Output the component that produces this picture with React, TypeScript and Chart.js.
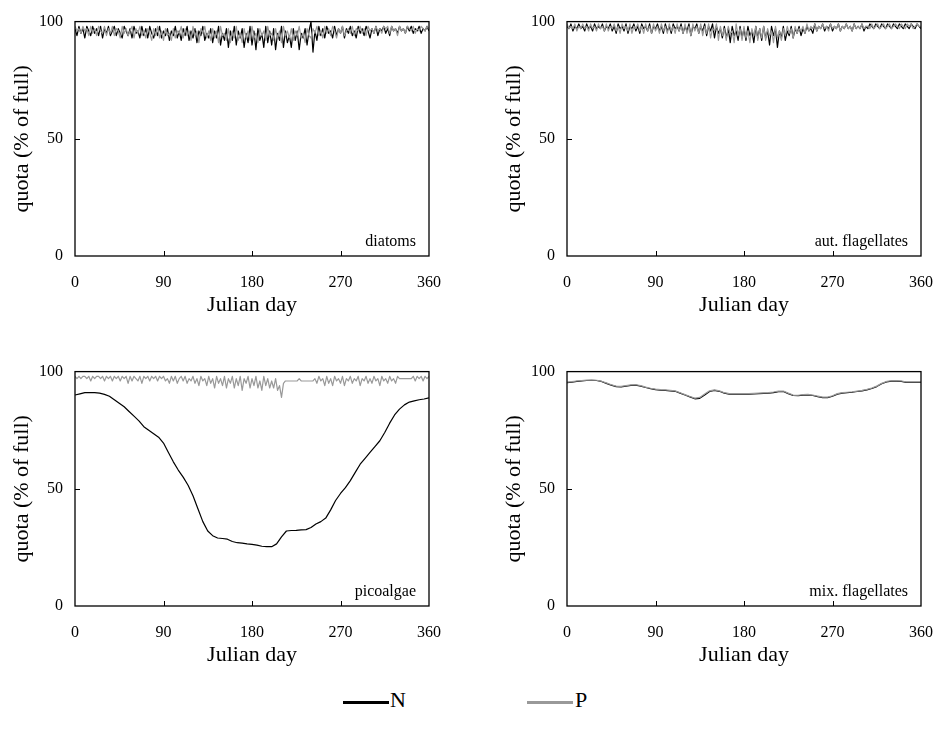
import React, { useEffect, useRef } from "react";
import { Chart, registerables } from "chart.js";
Chart.register(...registerables);

// x grids (Julian day)
const DAYS2 = Array.from({ length: 181 }, (_, i) => i * 2);
const DAYS5 = Array.from({ length: 73 }, (_, i) => i * 5);
const X_TICKS = [0, 90, 180, 270, 360];
const Y_TICKS = [0, 50, 100];

// diatoms (every 2 days)
const DIATOMS_N = [
  97, 94, 98, 95, 97, 93, 98, 96, 94, 98,
  95, 97, 94, 98, 93, 97, 95, 98, 94, 96,
  98, 94, 97, 95, 93, 98, 96, 94, 97, 93,
  98, 95, 96, 93, 98, 94, 97, 93, 98, 95,
  93, 97, 94, 98, 93, 96, 94, 97, 92, 96,
  94, 98, 93, 96, 92, 97, 94, 98, 92, 96,
  93, 97, 91, 96, 94, 98, 92, 95, 93, 97,
  91, 96, 93, 98, 90, 95, 92, 97, 89, 96,
  92, 98, 90, 96, 93, 97, 89, 95, 91, 98,
  90, 96, 88, 97, 92, 95, 89, 98, 91, 96,
  90, 97, 88, 95, 92, 98, 89, 96, 91, 94,
  89, 97, 92, 96, 88, 95, 93, 97, 90, 96,
  100, 87, 96, 92, 98, 94, 97, 93, 98, 95,
  96, 93, 98, 94, 97, 95, 98, 93, 97, 95,
  98, 94, 96, 93, 98, 95, 97, 94, 98, 96,
  93, 97, 95, 98, 94, 97, 96, 98, 95, 97,
  94, 98, 96, 97, 95, 98, 96, 97, 95, 98,
  96, 98, 95, 97, 96, 98, 95, 97, 96, 98,
  96,
];
const DIATOMS_P = [
  98, 96, 97, 95, 98, 96, 97, 94, 98, 95,
  97, 94, 98, 96, 95, 98, 94, 97, 95, 98,
  94, 97, 96, 93, 98, 95, 97, 94, 96, 98,
  93, 97, 95, 98, 94, 96, 93, 97, 95, 92,
  97, 94, 98, 93, 96, 92, 97, 94, 95, 92,
  97, 93, 96, 95, 98, 93, 97, 94, 96, 92,
  98, 94, 96, 91, 97, 95, 98, 93, 96, 92,
  97, 93, 96, 91, 98, 94, 95, 92, 97, 91,
  96, 93, 98, 92, 95, 91, 97, 93, 96, 92,
  98, 93, 95, 91, 97, 94, 96, 92, 98, 94,
  95, 92, 97, 93, 96, 91, 98, 94, 96, 93,
  97, 92, 96, 94, 98, 93, 95, 91, 97, 94,
  93, 97, 95, 98, 94, 96, 93, 98, 95, 97,
  94, 98, 96, 93, 97, 95, 98, 94, 96, 97,
  95, 98, 94, 97, 96, 98, 95, 97, 94, 98,
  96, 97, 95, 98, 96, 97, 95, 98, 97, 98,
  95, 98, 96, 97, 94, 98, 96, 97, 95, 98,
  97, 96, 98, 95, 97, 96, 98, 97, 96, 98,
  97,
];

// autotrophic flagellates (every 2 days)
const AUTFLAG_N = [
  98, 97, 99, 96, 98, 97, 99, 97, 98, 96,
  99, 97, 98, 96, 99, 97, 98, 97, 99, 96,
  98, 97, 99, 96, 98, 95, 99, 97, 98, 96,
  99, 95, 98, 97, 99, 96, 98, 95, 99, 97,
  98, 96, 99, 95, 98, 97, 99, 96, 98, 95,
  99, 96, 98, 95, 99, 97, 98, 96, 99, 95,
  98, 96, 99, 94, 98, 97, 99, 95, 98, 96,
  99, 94, 98, 96, 99, 93, 98, 95, 97, 93,
  98, 93, 97, 91, 98, 94, 96, 92, 98, 93,
  97, 92, 98, 94, 96, 91, 98, 93, 97, 92,
  98, 93, 96, 90, 98, 94, 97, 89, 96, 93,
  98, 92, 96, 94, 98, 93, 97, 95, 98, 94,
  97, 95, 98, 96, 97, 95, 99, 96, 98, 97,
  99, 96, 98, 97, 99, 96, 98, 97, 99, 96,
  98, 97, 99, 97, 98, 96, 99, 97, 98, 97,
  99, 96, 98, 97, 99, 98, 97, 99, 98, 97,
  99, 98, 97, 99, 98, 97, 99, 98, 97, 99,
  98, 97, 99, 98, 97, 99, 98, 97, 99, 98,
  97,
];
const AUTFLAG_P = [
  99, 97, 98, 97, 99, 96, 98, 97, 99, 97,
  98, 96, 99, 97, 98, 96, 99, 97, 98, 96,
  99, 96, 98, 97, 99, 96, 98, 95, 99, 97,
  98, 96, 99, 95, 98, 97, 99, 96, 98, 95,
  99, 96, 98, 95, 99, 96, 98, 95, 99, 96,
  98, 95, 99, 96, 98, 95, 99, 96, 98, 95,
  99, 95, 98, 94, 99, 96, 98, 95, 99, 94,
  98, 95, 99, 93, 97, 96, 99, 92, 98, 94,
  97, 92, 98, 95, 96, 91, 99, 94, 97, 92,
  98, 93, 96, 91, 97, 94, 98, 92, 97, 93,
  98, 92, 97, 94, 96, 91, 98, 93, 96, 92,
  97, 94, 98, 95, 97, 93, 98, 95, 97, 96,
  98, 95, 99, 96, 98, 97, 99, 96, 98, 97,
  99, 97, 98, 96, 99, 97, 98, 97, 99, 96,
  98, 97, 99, 97, 98, 96, 99, 97, 98, 97,
  99, 97, 98, 98, 97, 99, 97, 98, 99, 97,
  98, 99, 97, 98, 99, 97, 98, 99, 98, 97,
  99, 98, 97, 99, 98, 99, 97, 98, 99, 98,
  98,
];

// picoalgae
const PICO_P = [
  98, 97, 98, 97, 98, 98, 97, 98, 96, 98,
  97, 98, 98, 97, 98, 96, 98, 97, 98, 96,
  98, 97, 98, 96, 98, 97, 98, 95, 98, 96,
  98, 97, 96, 98, 95, 98, 97, 98, 96, 98,
  97, 98, 96, 98, 97, 98, 96, 97, 95, 98,
  96, 98, 95, 97, 98, 96, 98, 95, 97, 96,
  98, 95, 97, 94, 98, 96, 97, 94, 98, 95,
  97, 93, 98, 95, 97, 94, 98, 93, 97, 95,
  98, 93, 97, 94, 98, 92, 97, 95, 98, 93,
  97, 94, 98, 93, 96, 92, 98, 94, 97, 93,
  96, 93, 97, 92, 94, 89, 95, 96, 96, 96,
  96, 96, 96, 96, 97, 96, 96, 96, 96, 96,
  96, 96, 97, 95, 98, 96, 97, 94, 98, 95,
  97, 94, 98, 96, 97, 95, 98, 94, 97, 96,
  98, 95, 97, 96, 98, 94, 97, 96, 98, 95,
  97, 95, 98, 96, 97, 94, 98, 96, 97, 95,
  98, 96, 97, 95, 98, 97, 97, 97, 97, 97,
  97, 97, 98, 96, 98, 97, 98, 96, 98, 97,
  98,
];
// picoalgae N (every 5 days)
const PICO_N = [
  90, 90.5, 91, 91, 91, 90.8, 90.3, 89.5, 88, 86.5,
  85, 83, 81, 79, 76.5, 75, 73.5, 72, 69.5, 65.5,
  61.5, 58, 55, 51.5, 47, 41.5, 36, 32, 30, 29,
  28.8, 28.5, 27.5, 27, 26.8, 26.5, 26.3, 26, 25.5, 25.3,
  25.3, 26.5, 29.5, 32, 32.2, 32.3, 32.5, 32.6, 33.5, 35,
  36, 37.5, 41, 45, 48, 50.5, 53.5, 57, 60.5, 63,
  65.5, 68, 70.5, 74, 78, 81.5, 84, 85.8, 87, 87.5,
  88, 88.3, 88.8,
];

// mixotrophic flagellates (every 5 days)
const MIXFLAG_N = [
  95.3, 95.5, 95.8, 96, 96.2, 96.3, 96.2, 95.8, 95, 94.2,
  93.6, 93.5, 93.8, 94.1, 94.2, 93.8, 93.2, 92.7, 92.3, 92.1,
  92, 91.8, 91.6, 90.8, 90, 89.2, 88.4, 88.6, 90, 91.5,
  92, 91.6, 90.8, 90.4, 90.4, 90.4, 90.4, 90.4, 90.5, 90.6,
  90.7, 90.8, 91, 91.4, 91.5, 90.6, 89.8, 89.7, 90, 90.1,
  89.8, 89.3, 88.9, 88.9, 89.5, 90.4, 90.8, 91, 91.2, 91.5,
  91.8, 92.2, 92.8, 93.6, 94.8, 95.6, 95.9, 95.9, 95.8, 95.4,
  95.4, 95.4, 95.4,
];
const MIXFLAG_P = [
  95.5, 95.7, 96, 96.2, 96.4, 96.4, 96.3, 95.9, 95.2, 94.4,
  93.8, 93.7, 94, 94.3, 94.4, 94, 93.4, 92.9, 92.5, 92.3,
  92.2, 92, 91.8, 91, 90.2, 89.4, 88.7, 89, 90.4, 91.8,
  92.2, 91.8, 91, 90.6, 90.6, 90.6, 90.6, 90.6, 90.7, 90.8,
  90.9, 91, 91.3, 91.7, 91.7, 90.8, 90, 89.9, 90.2, 90.3,
  90, 89.5, 89.1, 89.1, 89.7, 90.6, 91, 91.2, 91.4, 91.7,
  92, 92.4, 93, 93.8, 95, 95.8, 96.1, 96.1, 96, 95.6,
  95.6, 95.6, 95.6,
];

const SERIF = '"Liberation Serif", "Times New Roman", serif';
const N_COLOR = "#000000";
const P_COLOR = "#999999";

const framePlugin = {
  id: "frame",
  afterDatasetsDraw(chart: any, _args: any, opts: any) {
    const { ctx, chartArea, scales } = chart;
    const { left, top, right, bottom } = chartArea;
    ctx.save();
    ctx.strokeStyle = "#000";
    ctx.lineWidth = 1.3;
    ctx.strokeRect(left, top, right - left, bottom - top);
    ctx.beginPath();
    X_TICKS.slice(1, -1).forEach((v) => {
      const px = Math.round(scales.x.getPixelForValue(v)) + 0.5;
      ctx.moveTo(px, bottom);
      ctx.lineTo(px, bottom - 5);
    });
    Y_TICKS.slice(1, -1).forEach((v) => {
      const py = Math.round(scales.y.getPixelForValue(v)) + 0.5;
      ctx.moveTo(left, py);
      ctx.lineTo(left + 5, py);
    });
    ctx.lineWidth = 1;
    ctx.stroke();
    ctx.font = `16px ${SERIF}`;
    ctx.fillStyle = "#000";
    ctx.textAlign = "right";
    ctx.textBaseline = "alphabetic";
    ctx.fillText(opts.text || "", right - 13, bottom - 10);
    ctx.restore();
  },
};

type Series = { label: string; days: number[]; values: number[]; color: string; width: number };

function Panel({ series, name, left, top }: { series: Series[]; name: string; left: number; top: number }) {
  const ref = useRef<HTMLCanvasElement>(null);
  useEffect(() => {
    const chart = new Chart(ref.current as HTMLCanvasElement, {
      type: "line",
      data: {
        datasets: series.map((s) => ({
          label: s.label,
          data: s.days.map((d, i) => ({ x: d, y: s.values[i] })),
          borderColor: s.color,
          backgroundColor: s.color,
          borderWidth: s.width,
          pointRadius: 0,
          tension: 0,
          borderJoinStyle: "round" as const,
          fill: false,
        })),
      },
      options: {
        responsive: false,
        animation: false,
        events: [],
        layout: { padding: { top: 16, bottom: 12, left: 0, right: 41 } },
        plugins: {
          legend: { display: false },
          tooltip: { enabled: false },
          frame: { text: name },
        } as any,
        scales: {
          x: {
            type: "linear",
            min: 0,
            max: 360,
            afterBuildTicks: (s: any) => {
              s.ticks = X_TICKS.map((v) => ({ value: v }));
            },
            afterFit: (s: any) => {
              s.height = 62;
            },
            ticks: { color: "#000", font: { family: SERIF, size: 16 }, padding: 17, maxRotation: 0 },
            grid: { display: false, drawTicks: false },
            border: { display: false },
            title: {
              display: true,
              text: "Julian day",
              color: "#000",
              font: { family: SERIF, size: 22 },
              padding: { top: 0, bottom: 0 },
            },
          },
          y: {
            type: "linear",
            min: 0,
            max: 100,
            afterBuildTicks: (s: any) => {
              s.ticks = Y_TICKS.map((v) => ({ value: v }));
            },
            afterFit: (s: any) => {
              s.width = 75;
            },
            ticks: { color: "#000", font: { family: SERIF, size: 16 }, padding: 12 },
            grid: { display: false, drawTicks: false },
            border: { display: false },
            title: {
              display: true,
              text: "quota (% of full)",
              color: "#000",
              font: { family: SERIF, size: 22 },
              padding: { top: 9, bottom: 0 },
            },
          },
        },
      },
      plugins: [framePlugin],
    } as any);
    return () => chart.destroy();
  }, []);
  return (
    <div style={{ position: "absolute", left, top, width: 470, height: 330 }}>
      <canvas ref={ref} width={470} height={330} />
    </div>
  );
}

const nP = (days: number[], values: number[]): Series => ({ label: "P", days, values, color: P_COLOR, width: 1.2 });
const nN = (days: number[], values: number[]): Series => ({ label: "N", days, values, color: N_COLOR, width: 1.2 });

export default function App() {
  return (
    <div style={{ position: "absolute", left: 0, top: 0, width: 936, height: 740, background: "#fff", fontFamily: SERIF }}>
      <Panel name="diatoms" left={0} top={0} series={[nP(DAYS2, DIATOMS_P), nN(DAYS2, DIATOMS_N)]} />
      <Panel name="aut. flagellates" left={492} top={0} series={[nP(DAYS2, AUTFLAG_P), nN(DAYS2, AUTFLAG_N)]} />
      <Panel name="picoalgae" left={0} top={350} series={[nP(DAYS2, PICO_P), nN(DAYS5, PICO_N)]} />
      <Panel name="mix. flagellates" left={492} top={350} series={[nP(DAYS5, MIXFLAG_P), nN(DAYS5, MIXFLAG_N)]} />
      <div style={{ position: "absolute", left: 343, top: 701, width: 46, height: 3, background: N_COLOR }} />
      <div style={{ position: "absolute", left: 390, top: 689, fontSize: 22, lineHeight: "22px", color: "#000" }}>N</div>
      <div style={{ position: "absolute", left: 527, top: 701, width: 46, height: 3, background: P_COLOR }} />
      <div style={{ position: "absolute", left: 575, top: 689, fontSize: 22, lineHeight: "22px", color: "#000" }}>P</div>
    </div>
  );
}
